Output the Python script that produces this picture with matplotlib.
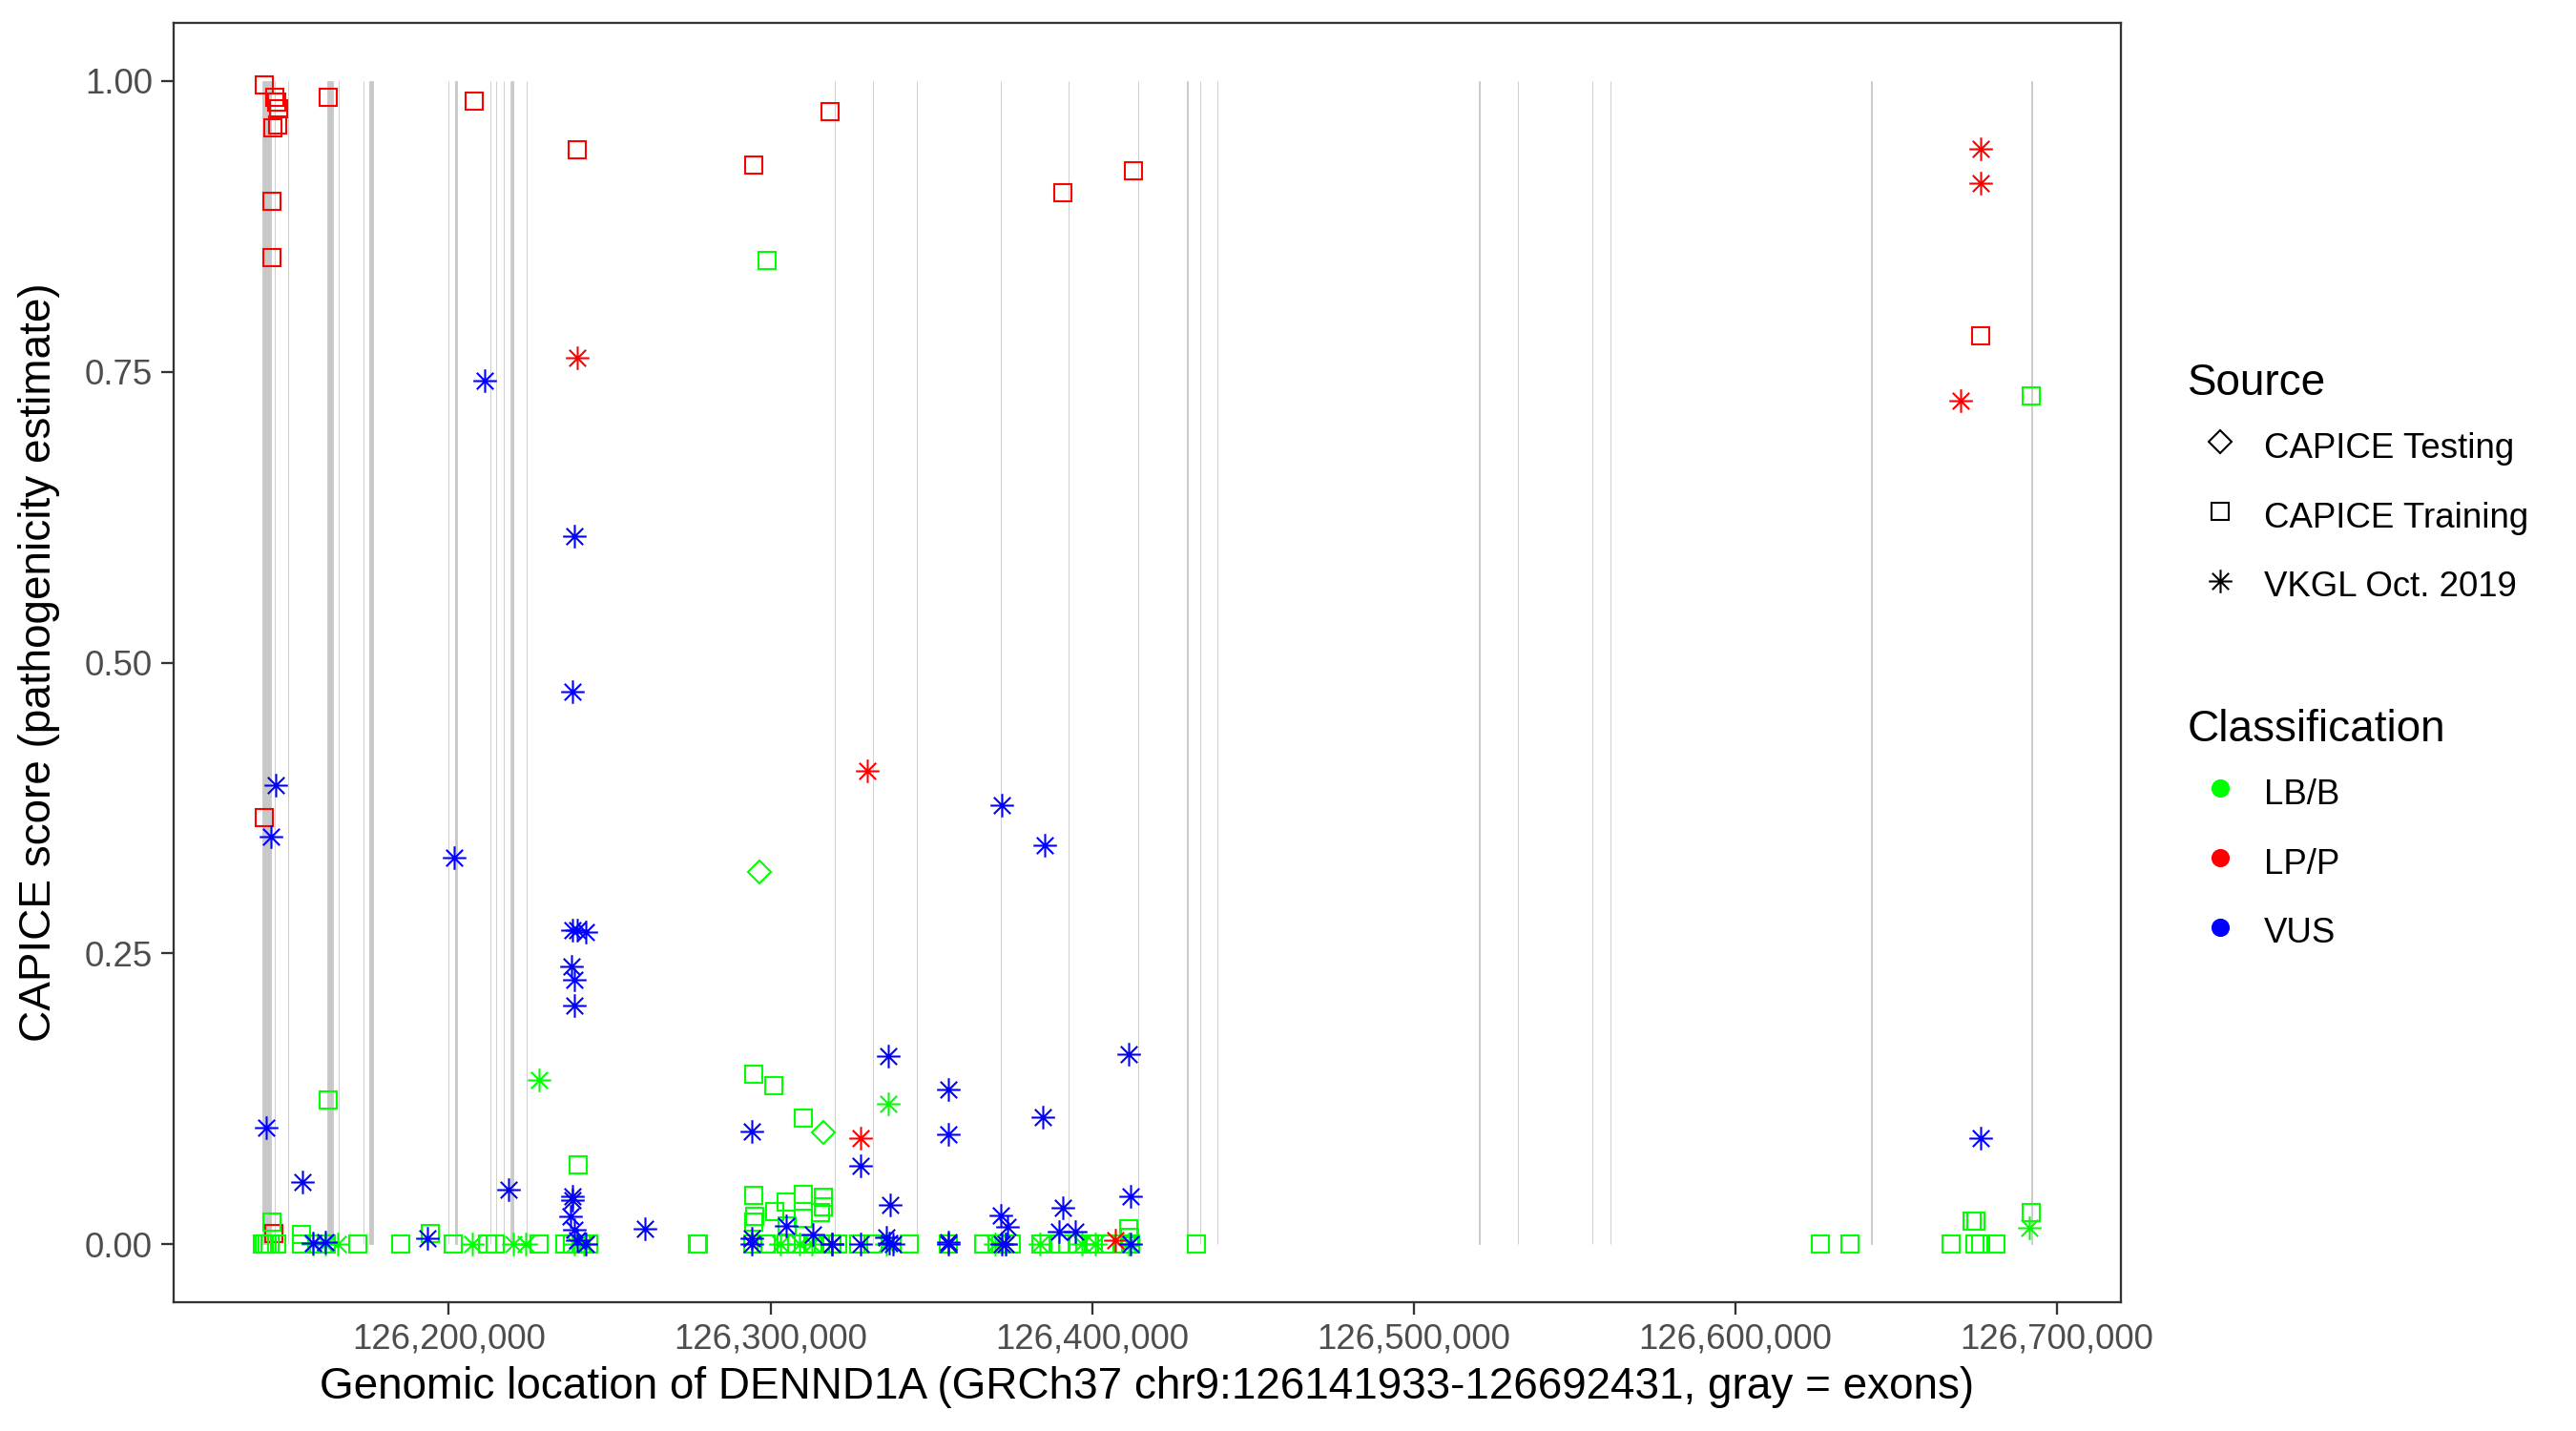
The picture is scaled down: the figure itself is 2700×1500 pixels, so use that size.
import numpy as np
import matplotlib.pyplot as plt
from matplotlib.path import Path
from matplotlib.lines import Line2D
from matplotlib.ticker import StrMethodFormatter

plt.rcParams['font.family'] = ['Liberation Sans', 'DejaVu Sans']

gene_start, gene_end = 126141933, 126692431

# exons of DENND1A (gray bands)
exon_start = [126141933, 126145850, 126150000, 126162320, 126165610, 126173420,
              126175370, 126199730, 126201870, 126212790, 126214570, 126216940,
              126219040, 126219580, 126224100, 126319900, 126331810, 126345420,
              126371530, 126392600, 126414260, 126429600, 126433600, 126439000,
              126520380, 126532310, 126555540, 126561120, 126642340, 126692200]
exon_end = [126144800, 126145970, 126150120, 126164100, 126165730, 126173580,
            126176560, 126199850, 126202670, 126212910, 126214690, 126217060,
            126219120, 126220090, 126224150, 126320020, 126331860, 126345540,
            126371650, 126392720, 126414380, 126429720, 126433720, 126439120,
            126520500, 126532430, 126555660, 126561240, 126642460, 126692431]

# CAPICE Training, LP/P
train_lpp_pos = [126142710, 126145730, 126146420, 126147070, 126145230, 126146800,
                 126145080, 126145080, 126142620, 126145700, 126162560, 126208010,
                 126239910, 126294650, 126318680, 126390800, 126412910, 126676300]
train_lpp_score = [0.997, 0.986, 0.982, 0.976, 0.960, 0.962,
                   0.897, 0.848, 0.367, 0.009, 0.986, 0.983,
                   0.941, 0.928, 0.974, 0.904, 0.923, 0.781]

# CAPICE Training, LB/B
train_lbb_pos = [126299010, 126692030, 126692030, 126162440, 126240180, 126145080,
                 126154310, 126194360, 126294650, 126301110, 126310250, 126294650,
                 126301400, 126304740, 126310250, 126316480, 126316480, 126315500,
                 126310250, 126294650, 126295000, 126673530, 126674720, 126411400,
                 126411800, 126305300,
                 126141900, 126142700, 126143500, 126144500, 126146500, 126154300,
                 126159000, 126162000, 126171800, 126184900, 126201400, 126211900,
                 126214500, 126227900, 126236000, 126238500, 126241000, 126243500,
                 126277200, 126277700, 126294600, 126298700, 126305000, 126308000,
                 126313300, 126316500, 126319000, 126320800, 126327300, 126332000,
                 126343200, 126355200, 126366200, 126370600, 126375000, 126384000,
                 126389900, 126392500, 126395800, 126400300, 126404700, 126409200,
                 126412100, 126432600, 126626600, 126635700, 126667000, 126674700,
                 126676200, 126681200]
train_lbb_score = [0.846, 0.729, 0.027, 0.124, 0.068, 0.019,
                   0.008, 0.009, 0.146, 0.136, 0.108, 0.042,
                   0.028, 0.036, 0.043, 0.040, 0.032, 0.027,
                   0.022, 0.019, 0.024, 0.020, 0.020, 0.013,
                   0.006, 0.016,
                   0.0, 0.0, 0.0, 0.0, 0.0, 0.0,
                   0.0, 0.0, 0.0, 0.0, 0.0, 0.0,
                   0.0, 0.0, 0.0, 0.0, 0.0, 0.0,
                   0.0, 0.0, 0.0, 0.0, 0.0, 0.0,
                   0.0, 0.0, 0.0, 0.0, 0.0, 0.0,
                   0.0, 0.0, 0.0, 0.0, 0.0, 0.0,
                   0.0, 0.0, 0.0, 0.0, 0.0, 0.0,
                   0.0, 0.0, 0.0, 0.0, 0.0, 0.0,
                   0.0, 0.0]

# VKGL Oct. 2019, LB/B
vkgl_lbb_pos = [126228130, 126336600, 126691530,
                126157600, 126161600, 126165500, 126207300, 126219900, 126223900,
                126239000, 126242000, 126303000, 126309000, 126313000, 126336000,
                126370000, 126373000, 126383900, 126397000, 126401000, 126411500]
vkgl_lbb_score = [0.141, 0.121, 0.014,
                  0.0, 0.0, 0.0, 0.0, 0.0, 0.0,
                  0.0, 0.0, 0.0, 0.0, 0.0, 0.0,
                  0.0, 0.0, 0.0, 0.0, 0.0, 0.0]

# VKGL Oct. 2019, LP/P
vkgl_lpp_pos = [126239910, 126330250, 126327970, 126407390, 126676300, 126676300, 126670200]
vkgl_lpp_score = [0.762, 0.407, 0.091, 0.003, 0.942, 0.912, 0.725]

# VKGL Oct. 2019, VUS
vkgl_vus_pos = [126211190, 126238900, 126238500, 126146200, 126144600, 126201500,
                126238500, 126240000, 126242500, 126238000, 126239000, 126239000,
                126143090, 126154370, 126218600, 126238500, 126238500, 126237800,
                126239000, 126240000, 126242500, 126260970, 126193440, 126157660,
                126161640, 126294350, 126304740, 126294350, 126294350, 126313300,
                126319200, 126336600, 126327970, 126337370, 126336000, 126337000,
                126338000, 126355410, 126355410, 126355410, 126355410, 126371700,
                126373690, 126372000, 126373000, 126371800, 126384550, 126385150,
                126390900, 126389600, 126394870, 126411430, 126412080, 126412000,
                126676300, 126327900, 126319270]
vkgl_vus_score = [0.742, 0.609, 0.475, 0.395, 0.350, 0.332,
                  0.270, 0.270, 0.268, 0.239, 0.227, 0.205,
                  0.100, 0.053, 0.047, 0.041, 0.038, 0.024,
                  0.012, 0.003, 0.0, 0.013, 0.005, 0.001,
                  0.002, 0.097, 0.016, 0.005, 0.0, 0.008,
                  0.0, 0.162, 0.067, 0.034, 0.006, 0.001,
                  0.0, 0.133, 0.094, 0.002, 0.0, 0.025,
                  0.015, 0.0, 0.0, 0.377, 0.109, 0.343,
                  0.031, 0.011, 0.011, 0.163, 0.041, 0.0,
                  0.091, 0.0, 0.0]

# CAPICE Testing, LB/B
test_lbb_pos = [126296430, 126316450]
test_lbb_score = [0.320, 0.096]

sources = ['CAPICE Testing', 'CAPICE Training', 'VKGL Oct. 2019']
classes = ['LB/B', 'LP/P', 'VUS']
class_colors = {'LB/B': '#00FF00', 'LP/P': '#FF0000', 'VUS': '#0000FF'}

r = 1 / np.sqrt(2)
asterisk = Path([(-1, 0), (1, 0), (0, -1), (0, 1), (-r, -r), (r, r), (-r, r), (r, -r)],
                [Path.MOVETO, Path.LINETO] * 4)
shape = {'CAPICE Testing': ('D', 4.2), 'CAPICE Training': ('s', 4.2),
         'VKGL Oct. 2019': (asterisk, 5.9)}

fig = plt.figure(figsize=(9, 5), dpi=300)
ax = fig.add_axes([182 / 2700, 135 / 1500, 2041 / 2700, 1341 / 1500])

# exons
ax.bar(exon_start, 1, width=np.array(exon_end) - np.array(exon_start), bottom=0,
       align='edge', color='#C8C8C8', edgecolor='#C8C8C8', linewidth=0.2, zorder=1)

groups = [
    ('CAPICE Training', 'LP/P', train_lpp_pos, train_lpp_score),
    ('CAPICE Training', 'LB/B', train_lbb_pos, train_lbb_score),
    ('VKGL Oct. 2019', 'LB/B', vkgl_lbb_pos, vkgl_lbb_score),
    ('VKGL Oct. 2019', 'LP/P', vkgl_lpp_pos, vkgl_lpp_score),
    ('VKGL Oct. 2019', 'VUS', vkgl_vus_pos, vkgl_vus_score),
    ('CAPICE Testing', 'LB/B', test_lbb_pos, test_lbb_score),
]
for src, cls, pos, score in groups:
    m, ms = shape[src]
    ax.plot(pos, score, ls='none', marker=m, ms=ms, mfc='none',
            mec=class_colors[cls], mew=0.5, zorder=3)

span = gene_end - gene_start
ax.set_xlim(gene_start - 0.05 * span, gene_end + 0.05 * span)
ax.set_ylim(-0.05, 1.05)
ax.set_xticks(np.arange(126200000, 126700001, 100000))
ax.set_yticks([0, 0.25, 0.5, 0.75, 1.0])
ax.xaxis.set_major_formatter(StrMethodFormatter('{x:,.0f}'))
ax.yaxis.set_major_formatter(StrMethodFormatter('{x:.2f}'))
ax.tick_params(direction='out', length=3.05, width=0.55, color='#333333',
               labelcolor='#4D4D4D', labelsize=8.8, pad=2.2)
for s in ax.spines.values():
    s.set_color('#333333')
    s.set_linewidth(0.55)

ax.set_xlabel('Genomic location of DENND1A (GRCh37 chr9:126141933-126692431, gray = exons)',
              fontsize=11, labelpad=2.5)
ax.set_ylabel('CAPICE score (pathogenicity estimate)', fontsize=11, labelpad=6.3)

# legends
src_handles = [Line2D([], [], ls='none', marker=shape[s][0], ms=shape[s][1], mfc='none',
                      mec='black', mew=0.5) for s in sources]
cls_handles = [Line2D([], [], ls='none', marker='o', ms=4.6, mfc=class_colors[c],
                      mec=class_colors[c], mew=0) for c in classes]
leg_kw = dict(loc='upper left', frameon=False, fontsize=8.8, title_fontsize=11,
              alignment='left', handlelength=1.85, handletextpad=0.33,
              handleheight=1.375, labelspacing=0.84, borderpad=0, borderaxespad=0)
leg_src = fig.legend(src_handles, sources, title='Source',
                     bbox_to_anchor=(2293 / 2700, 1 - 380 / 1500), **leg_kw)
leg_cls = fig.legend(cls_handles, classes, title='Classification',
                     bbox_to_anchor=(2293 / 2700, 1 - 743 / 1500), **leg_kw)
# gap between legend title and first key
for leg in (leg_src, leg_cls):
    leg._legend_box.sep = 5.5

fig.savefig('out.png', dpi=300)
